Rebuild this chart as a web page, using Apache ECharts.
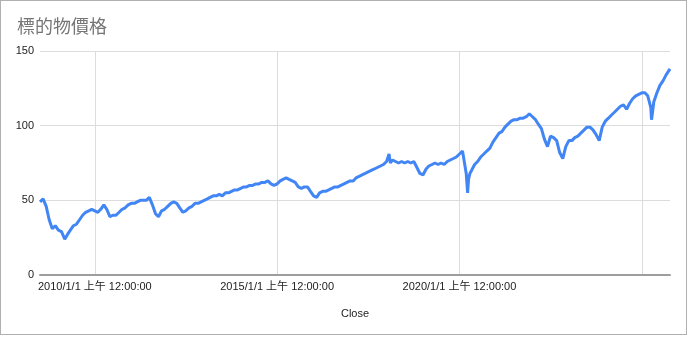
<!DOCTYPE html>
<html>
<head>
<meta charset="utf-8">
<script src="https://cdn.jsdelivr.net/npm/echarts@6/dist/echarts.min.js"></script>
<style>
  html, body { margin: 0; padding: 0; background: #fff; }
  #chart { position: absolute; left: 0; top: 0; width: 687px; height: 337px; }
  #frame { position: absolute; left: 0; top: 0; width: 687px; height: 335px; box-sizing: border-box; border: 1px solid #b0b0b0; pointer-events: none; }
</style>
</head>
<body>
<div id="chart"></div>
<div id="frame"></div>
<script>
const chartTitle = '標的物價格';
const xAxisTitle = 'Close';
const yTicks = [0, 50, 100, 150];
const xGridDates = ['2010-01-01', '2015-01-01', '2020-01-01', '2025-01-01'];
const xLabelDates = ['2010-01-01', '2015-01-01', '2020-01-01'];
const xRange = ['2008-07-01', '2025-10-10'];

const dates = [
  '2008-07-01','2008-08-01','2008-09-01','2008-10-01','2008-11-01','2008-12-01',
  '2009-01-01','2009-02-01','2009-03-06','2009-04-01','2009-05-01','2009-06-01','2009-07-01','2009-08-01','2009-09-01','2009-10-01','2009-11-01','2009-12-01',
  '2010-01-01','2010-02-01','2010-03-01','2010-04-01','2010-05-01','2010-06-01','2010-07-01','2010-08-01','2010-09-01','2010-10-01','2010-11-01','2010-12-01',
  '2011-01-01','2011-02-01','2011-03-01','2011-04-01','2011-05-01','2011-06-01','2011-07-01','2011-08-01','2011-09-01','2011-10-01','2011-11-01','2011-12-01',
  '2012-01-01','2012-02-01','2012-03-01','2012-04-01','2012-05-01','2012-06-01','2012-07-01','2012-08-01','2012-09-01','2012-10-01','2012-11-01','2012-12-01',
  '2013-01-01','2013-02-01','2013-03-01','2013-04-01','2013-05-01','2013-06-01','2013-07-01','2013-08-01','2013-09-01','2013-10-01','2013-11-01','2013-12-01',
  '2014-01-01','2014-02-01','2014-03-01','2014-04-01','2014-05-01','2014-06-01','2014-07-01','2014-08-01','2014-09-01','2014-10-01','2014-11-01','2014-12-01',
  '2015-01-01','2015-02-01','2015-03-01','2015-04-01','2015-05-01','2015-06-01','2015-07-01','2015-08-01','2015-09-01','2015-10-01','2015-11-01','2015-12-01',
  '2016-01-01','2016-02-01','2016-03-01','2016-04-01','2016-05-01','2016-06-01','2016-07-01','2016-08-01','2016-09-01','2016-10-01','2016-11-01','2016-12-01',
  '2017-01-01','2017-02-01','2017-03-01','2017-04-01','2017-05-01','2017-06-01','2017-07-01','2017-08-01','2017-09-01','2017-10-01','2017-11-01','2017-12-01',
  '2018-01-01','2018-01-26','2018-02-08','2018-03-01','2018-04-01','2018-05-01','2018-06-01','2018-07-01','2018-08-01','2018-09-01','2018-10-01','2018-11-01','2018-12-01',
  '2019-01-01','2019-02-01','2019-03-01','2019-04-01','2019-05-01','2019-06-01','2019-07-01','2019-08-01','2019-09-01','2019-10-01','2019-11-01','2019-12-01',
  '2020-01-01','2020-02-01','2020-02-19','2020-03-09','2020-03-23','2020-04-01','2020-04-15','2020-05-01','2020-06-01','2020-07-01','2020-08-01','2020-09-01','2020-10-01','2020-11-01','2020-12-01',
  '2021-01-01','2021-02-01','2021-03-01','2021-04-01','2021-05-01','2021-06-01','2021-07-01','2021-08-01','2021-09-01','2021-10-01','2021-11-01','2021-12-01',
  '2022-01-01','2022-02-01','2022-03-01','2022-04-01','2022-05-01','2022-06-01','2022-07-01','2022-08-01','2022-09-01','2022-10-01','2022-11-01','2022-12-01',
  '2023-01-01','2023-02-01','2023-03-01','2023-04-01','2023-05-01','2023-06-01','2023-07-01','2023-08-01','2023-09-01','2023-10-01','2023-11-01','2023-12-01',
  '2024-01-01','2024-02-01','2024-03-01','2024-04-01','2024-05-01','2024-06-01','2024-07-01','2024-08-01','2024-09-01','2024-10-01','2024-11-01','2024-12-01',
  '2025-01-01','2025-02-01','2025-03-01','2025-04-01','2025-04-08','2025-05-01','2025-06-01','2025-07-01','2025-08-01','2025-09-01','2025-10-10'
];

const closes = [
  49, 51, 46, 37, 31, 33,
  30, 29, 24, 27, 30, 33, 34, 37, 40, 42, 43, 44,
  43, 42, 44, 47, 44, 39, 40, 40, 42, 44, 45, 47,
  48, 48, 49, 50, 50, 50, 52, 47, 41, 39, 43, 44,
  46, 48, 49, 48, 45, 42, 43, 45, 46, 48, 48, 49,
  50, 51, 52, 53, 53, 54, 53, 55, 55, 56, 57, 57,
  58, 59, 59, 60, 60, 61, 61, 62, 62, 63, 61, 60,
  61, 63, 64, 65, 64, 63, 62, 59, 58, 59, 59, 56,
  53, 52, 55, 56, 56, 57, 58, 59, 59, 60, 61, 62,
  63, 63, 65, 66, 67, 68, 69, 70, 71, 72, 73, 74,
  76, 81, 75, 77, 76, 75, 76, 75, 76, 75, 76, 72, 68,
  67, 71, 73, 74, 75, 74, 75, 74, 76, 77, 78, 79,
  81, 83, 82, 68, 55, 64, 68, 70, 74, 76, 79, 81, 83, 85, 89,
  92, 95, 96, 99, 101, 103, 104, 104, 105, 105, 106, 108,
  106, 104, 101, 98, 91, 86, 93, 92, 90, 82, 78, 86,
  90, 90, 92, 93, 95, 97, 99, 99, 97, 94, 90, 99,
  103, 105, 107, 109, 111, 113, 114, 111, 115, 118, 120, 121,
  122, 122, 120, 112, 104, 116, 122, 127, 130, 134, 138
];

function toStamp(s) {
  const p = s.split('-').map(Number);
  return Date.UTC(p[0], p[1] - 1, p[2]);
}

const seriesData = dates.map((d, i) => [toStamp(d), closes[i]]);
const gridStamps = xGridDates.map(toStamp);
const labelStamps = xLabelDates.map(toStamp);

const chart = echarts.init(document.getElementById('chart'), null, { renderer: 'canvas' });
const baseFont = "'Liberation Sans', Arial, 'Noto Sans CJK TC', sans-serif";

chart.setOption({
  animation: false,
  backgroundColor: '#fff',
  title: {
    text: chartTitle,
    left: 12,
    top: 12,
    textStyle: { fontSize: 18, fontWeight: 'normal', color: '#757575', fontFamily: "'Noto Sans CJK TC', sans-serif" }
  },
  grid: { left: 40, right: 17, top: 51, bottom: 62, containLabel: false },
  xAxis: {
    type: 'value',
    min: toStamp(xRange[0]),
    max: toStamp(xRange[1]),
    name: xAxisTitle,
    nameLocation: 'middle',
    nameGap: 33,
    nameTextStyle: { fontSize: 11, color: '#222', fontFamily: baseFont },
    axisLine: { show: true, onZero: false, lineStyle: { color: '#9e9e9e', width: 2 } },
    axisTick: { show: false, customValues: gridStamps },
    splitLine: { show: true, lineStyle: { color: '#dcdcdc', width: 1 } },
    axisLabel: {
      customValues: labelStamps,
      margin: 6,
      fontSize: 11,
      color: '#222',
      fontFamily: baseFont,
      showMinLabel: true,
      showMaxLabel: true,
      formatter: function (v) {
        const d = new Date(v);
        return d.getUTCFullYear() + '/' + (d.getUTCMonth() + 1) + '/' + d.getUTCDate() + ' 上午 12:00:00';
      }
    }
  },
  yAxis: {
    type: 'value',
    min: yTicks[0],
    max: yTicks[yTicks.length - 1],
    interval: 50,
    axisLine: { show: false },
    axisTick: { show: false },
    splitLine: { lineStyle: { color: '#dcdcdc', width: 1 } },
    axisLabel: { fontSize: 11, color: '#222', margin: 6, fontFamily: baseFont }
  },
  series: [{
    type: 'line',
    data: seriesData,
    showSymbol: false,
    symbol: 'none',
    sampling: false,
    lineStyle: { color: '#4285F4', width: 3 },
    itemStyle: { color: '#4285F4' }
  }]
});
</script>
</body>
</html>
